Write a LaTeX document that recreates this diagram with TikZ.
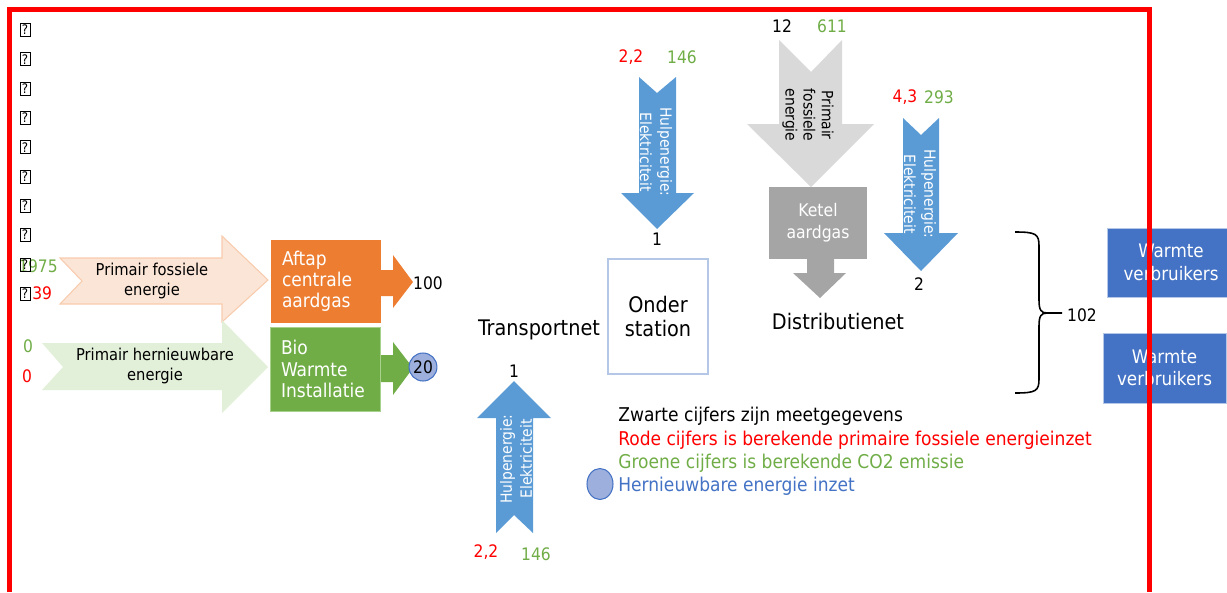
\documentclass[tikz,border=0pt]{standalone}
\usepackage{fontspec}
\setmainfont{DejaVu Sans Condensed}
\usepackage{tikz}
\usetikzlibrary{shapes.geometric,positioning}

\definecolor{peach}{HTML}{FBE5D6}
\definecolor{peachline}{HTML}{F8CBAD}
\definecolor{palegreen}{HTML}{E2F0D9}
\definecolor{orangebox}{HTML}{ED7D31}
\definecolor{greenbox}{HTML}{70AD47}
\definecolor{greenline}{HTML}{A9D18E}
\definecolor{elecblue}{HTML}{5B9BD5}
\definecolor{darkblue}{HTML}{4472C4}
\definecolor{lineblue}{HTML}{B4C7E7}
\definecolor{renewable}{HTML}{9DB0DD}
\definecolor{lightgray}{HTML}{D9D9D9}
\definecolor{ketelgray}{HTML}{A5A5A5}
\definecolor{co2green}{HTML}{70AD47}

\begin{document}
\begin{tikzpicture}[x=0.2mm, y=-0.2mm,
        tofu/.style = {draw, line width=0.35pt, inner sep=0pt, minimum width=2mm, minimum height=2.6mm,
                       font=\fontsize{7.5}{8}\selectfont},
        num/.style = {inner sep=0pt, font=\fontsize{9.8}{11}\selectfont},
        redtxt/.style = {num, text=red},
        greentxt/.style = {num, text=co2green},
        arrowtxt/.style = {align=center, font=\fontsize{9.3}{11.4}\selectfont},
        electxt/.style = {align=center, text=white, font=\fontsize{8.8}{11.4}\selectfont},
        unit/.style = {inner ysep=0pt, inner xsep=2.2mm, text width=17.6mm, align=left, text=white,
                       font=\fontsize{10.8}{12}\selectfont},
        block/.style = {align=center, font=\fontsize{12.2}{14.2}\selectfont},
        consumer/.style = {fill=darkblue, draw=lineblue, line width=0.5pt, text=white, align=center,
                           font=\fontsize{10.6}{12.8}\selectfont},
        legendtxt/.style = {anchor=west, inner sep=0pt, text height=3.2mm, text depth=1.34mm,
                            font=\fontsize{10.8}{12}\selectfont},
        renew/.style = {ellipse, fill=renewable, draw=darkblue, line width=0.6pt, inner sep=0pt},
        frame/.style = {draw=red, line width=1mm}
        ]
        \useasboundingbox (0,0) rectangle (1227,592);

        % missing glyphs on the left
        \node[greentxt] (co2fos) at (38,266) {1975};
        \node[redtxt, anchor=west] (primfos) at (32,293) {39};
        \foreach \i in {0,...,9}
            \node[tofu] (q\i) at (25,{30+29.3*\i}) {?};
        \node[greentxt] (co2ren) at (28,346) {0};
        \node[redtxt] (primren) at (27,376) {0};

        % primary energy arrows
        \draw[fill=peach, draw=peachline, line width=0.6pt]
            (60,258) -- (222,258) -- (222,236) -- (268,280) -- (222,322) -- (222,304)
            -- (60,304) -- (82,281) -- cycle;
        \node[arrowtxt] (fosarrow) at (152,281) {Primair fossiele\\energie};
        \fill[palegreen]
            (42,343) -- (222,343) -- (222,320) -- (268,367) -- (222,413) -- (222,390)
            -- (42,390) -- (63,367) -- cycle;
        \node[arrowtxt] (renarrow) at (155,366) {Primair hernieuwbare\\energie};

        % production units
        \fill[orangebox] (378,270) -- (393,270) -- (393,255) -- (413,282) -- (393,308)
            -- (393,296) -- (378,296) -- cycle;
        \node[unit, fill=orangebox, minimum height=16.6mm] (aftap) at (326,281.5) {Aftap\\centrale\\aardgas};
        \node[num] (out1) at (428,283) {100};
        \fill[greenbox] (378,355) -- (393,355) -- (393,342) -- (413,368) -- (393,395)
            -- (393,382) -- (378,382) -- cycle;
        \node[unit, fill=greenbox, draw=greenline, line width=0.5pt, minimum height=16.8mm] (bwi) at (325,369) {Bio\\Warmte\\Installatie};
        \node[renew, minimum width=5mm, minimum height=5.6mm, num] (out2) at (423,367) {20};

        % transport and substation
        \node[block] (transport) at (539,330) {Transportnet};
        \node[block, draw=lineblue, line width=0.6pt, minimum width=20mm, minimum height=23mm] (station) at (658,316.5) {Onder\\station};

        % auxiliary electricity, substation
        \fill[elecblue] (639,77) -- (657,93) -- (676,77) -- (676,193) -- (694,193)
            -- (657,229) -- (621,193) -- (639,193) -- cycle;
        \node[electxt, rotate=-90] (elec1) at (656,152) {Hulpenergie:\\Elektriciteit};
        \node[redtxt] (prim1) at (631,57) {2,2};
        \node[greentxt] (co21) at (682,57) {146};
        \node[num] (meas1) at (657,239) {1};

        % auxiliary electricity, transport
        \fill[elecblue] (514,381) -- (551,418) -- (533,418) -- (533,533) -- (514,515)
            -- (496,533) -- (496,418) -- (477,418) -- cycle;
        \node[electxt, rotate=90] (elec2) at (516,459) {Hulpenergie:\\Elektriciteit};
        \node[num] (meas2) at (514,371) {1};
        \node[redtxt] (prim2) at (486,552) {2,2};
        \node[greentxt] (co22) at (536,554) {146};

        % boiler
        \fill[lightgray] (779,40) -- (811,72) -- (842,40) -- (842,124) -- (874,124)
            -- (811,187) -- (747,124) -- (779,124) -- cycle;
        \node[arrowtxt, rotate=-90, font=\fontsize{8.8}{10.3}\selectfont] (fosarrow2) at (808,115) {Primair\\fossiele\\energie};
        \node[num] (meas3) at (782,26) {12};
        \node[greentxt] (co23) at (832,26) {611};
        \fill[ketelgray] (807,255) -- (834,255) -- (834,273) -- (846,273) -- (820,298)
            -- (793,273) -- (807,273) -- cycle;
        \node[fill=ketelgray, text=white, align=center, minimum width=19.6mm, minimum height=14.4mm,
              font=\fontsize{9.9}{12.5}\selectfont] (ketel) at (818,223) {Ketel\\aardgas};
        \node[block] (distr) at (838,321) {Distributienet};

        % auxiliary electricity, distribution
        \fill[elecblue] (903,118) -- (921,135) -- (939,118) -- (939,233) -- (958,233)
            -- (921,271) -- (884,233) -- (903,233) -- cycle;
        \node[electxt, rotate=-90] (elec3) at (920,194) {Hulpenergie:\\Elektriciteit};
        \node[redtxt] (prim3) at (905,97) {4,3};
        \node[greentxt] (co24) at (939,97) {293};
        \node[num] (meas4) at (919,284) {2};

        % consumers
        \draw[line width=0.9pt] (1015,232) .. controls (1036,232) and (1039,234) .. (1039,246)
            -- (1039,300) .. controls (1039,310) and (1041,313) .. (1047,313) -- (1062,313);
        \draw[line width=0.9pt] (1015,393) .. controls (1036,393) and (1039,391) .. (1039,379)
            -- (1039,326) .. controls (1039,316) and (1041,313) .. (1047,313);
        \node[num] (total) at (1082,315) {102};
        \node[consumer, minimum width=25.6mm, minimum height=13.8mm] (cons1) at (1171,262.5) {Warmte\\verbruikers};
        \node[consumer, minimum width=24.6mm, minimum height=14mm] (cons2) at (1164.5,368) {Warmte\\verbruikers};

        % legend
        \node[legendtxt] (lgblack) at (618,417) {Zwarte cijfers zijn meetgegevens};
        \node[legendtxt, text=red, below=0pt of lgblack.south west, anchor=north west] (lgred) {Rode cijfers is berekende primaire fossiele energieinzet};
        \node[legendtxt, text=co2green, below=0pt of lgred.south west, anchor=north west] (lggreen) {Groene cijfers is berekende CO2 emissie};
        \node[legendtxt, text=darkblue, below=0pt of lggreen.south west, anchor=north west] (lgblue) {Hernieuwbare energie inzet};
        \node[renew, minimum width=5.2mm, minimum height=6.2mm] (lgcircle) at (600,484) {};

        \draw[frame] (9,592) -- (9,9) -- (1149,9) -- (1149,592);
    \end{tikzpicture}
\end{document}
